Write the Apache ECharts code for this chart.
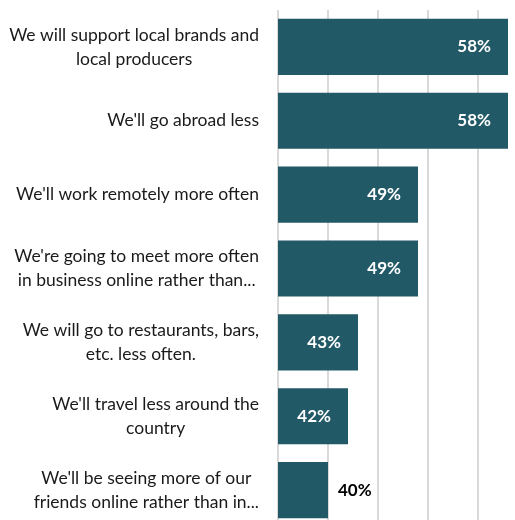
<!DOCTYPE html>
<html>
<head>
<meta charset="utf-8">
<script src="https://cdn.jsdelivr.net/npm/echarts@6/dist/echarts.min.js"></script>
<style>
  html, body { margin: 0; padding: 0; background: #ffffff; overflow: hidden; }
  #chart { width: 515px; height: 527px; }
</style>
</head>
<body>
<div id="chart"></div>
<script>
// Statements, top to bottom, with their line breaks
const categories = [
  "We will support local brands and\nlocal producers",
  "We'll go abroad less",
  "We'll work remotely more often",
  "We're going to meet more often\nin business online rather than...",
  "We will go to restaurants, bars,\netc. less often.",
  "We'll travel less around the\ncountry",
  "We'll be seeing more of our\nfriends online rather than in..."
];
// Share of respondents, percent
const values = [58, 58, 49, 49, 43, 42, 40];

const FONT = "Lato";
const BAR = "#225967";

const chart = echarts.init(document.getElementById("chart"), null, { renderer: "canvas" });

chart.setOption({
  animation: false,
  grid: { left: 278, right: 0, top: 10, bottom: 0, containLabel: false },
  xAxis: {
    type: "value",
    min: 35,
    max: 58.7,
    interval: 5,
    axisLine: { show: false },
    axisTick: { show: false },
    axisLabel: { show: false },
    splitLine: { show: true, showMaxLine: false, lineStyle: { color: "#d9d9d9", width: 2 } }
  },
  yAxis: {
    type: "category",
    inverse: true,
    data: categories,
    axisLine: { show: false },
    axisTick: { show: false },
    axisLabel: {
      margin: 19,
      align: "right",
      formatter: function (v) {
        return v.split("\n").map(function (s) { return "{c|" + s + "}"; }).join("\n");
      },
      rich: {
        c: {
          align: "center",
          fontFamily: FONT,
          fontSize: 17.5,
          lineHeight: 24,
          color: "#1a1a1a"
        }
      }
    }
  },
  series: [{
    type: "bar",
    barCategoryGap: "24%",
    itemStyle: { color: BAR },
    data: values.map(function (v) {
      const inside = v > 40;
      return {
        value: v,
        label: {
          show: true,
          position: inside ? "insideRight" : "right",
          distance: inside ? 17 : 10,
          formatter: "{c}%",
          color: inside ? "#ffffff" : "#000000",
          fontFamily: FONT,
          fontWeight: "bold",
          fontSize: 17
        }
      };
    })
  }]
});
</script>
</body>
</html>
